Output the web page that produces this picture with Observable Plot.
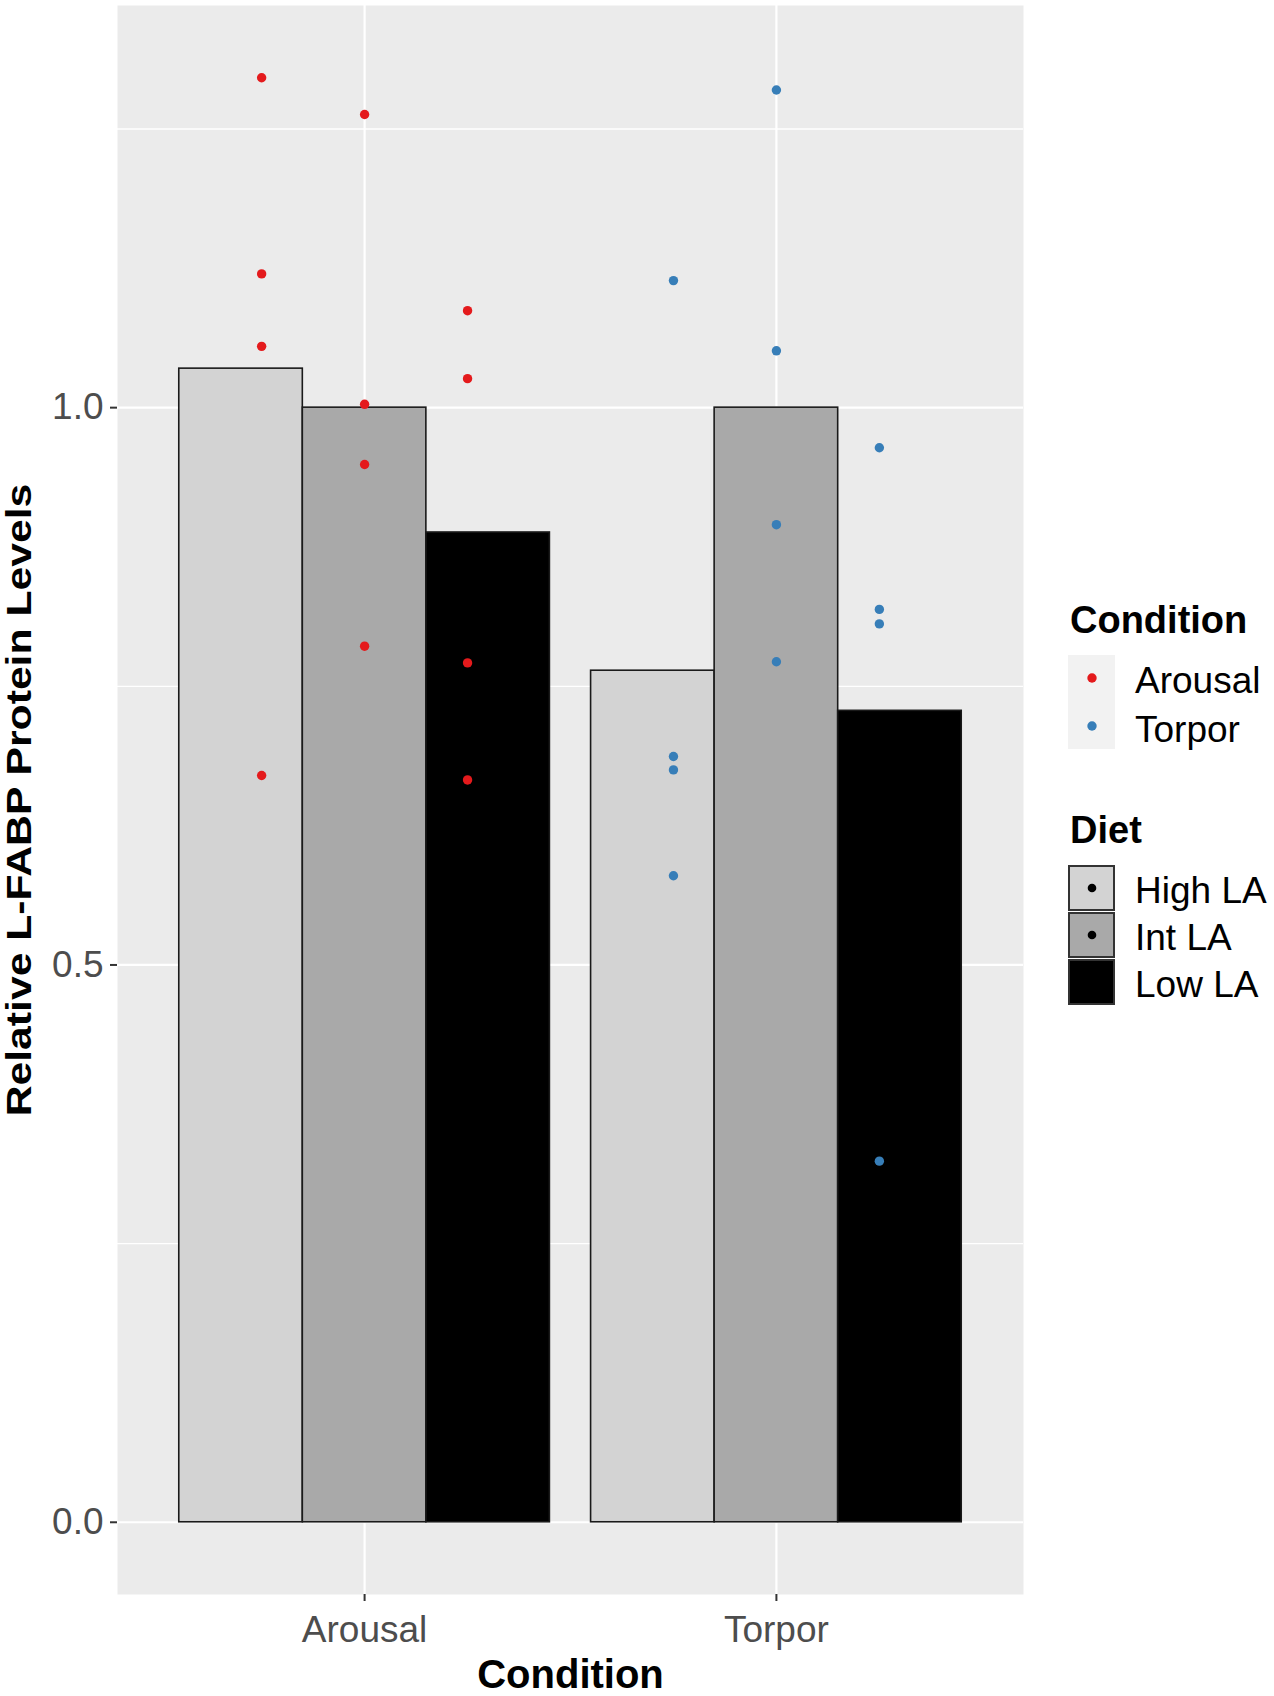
<!DOCTYPE html>
<html>
<head>
<meta charset="utf-8">
<script src="https://cdn.jsdelivr.net/npm/d3@7"></script>
<script src="https://cdn.jsdelivr.net/npm/@observablehq/plot@0.6"></script>
<style>
  html, body { margin: 0; padding: 0; background: #fff; }
  #wrap { position: relative; width: 1274px; height: 1696px; font-family: "Liberation Sans", Arial, sans-serif; }
  #legend { position: absolute; left: 0; top: 0; pointer-events: none; }
</style>
</head>
<body>
<div id="wrap"></div>
<script>
// ---- data ----
const conditions = ["Arousal", "Torpor"];
const diets = ["High LA", "Int LA", "Low LA"];
const dietFills = ["#D3D3D3", "#A9A9A9", "#000000"];
const conditionColors = ["#E41A1C", "#377EB8"];

// mean bar heights per diet (High, Int, Low)
const arousalBars = [1.035, 1.000, 0.888];
const torporBars  = [0.764, 1.000, 0.728];

// individual points per diet (High, Int, Low)
const arousalPoints = [
  [1.296, 1.120, 1.055, 0.670],
  [1.263, 1.003, 0.949, 0.786],
  [1.087, 1.026, 0.771, 0.666]
];
const torporPoints = [
  [1.114, 0.687, 0.675, 0.580],
  [1.285, 1.051, 0.895, 0.772],
  [0.964, 0.819, 0.806, 0.324]
];

const yMajor = [0, 0.5, 1.0];
const yMinor = [0.25, 0.75, 1.25];
const xTitle = "Condition";
const yTitle = "Relative L-FABP Protein Levels";

// ---- build tables ----
const barDodge = 0.3;   // geom_bar dodge (width 0.9 / 3)
const pointDodge = 0.25; // geom_point dodge (width 0.75 / 3)
const bars = [];
[arousalBars, torporBars].forEach((vals, ci) =>
  vals.forEach((v, di) => bars.push({condition: conditions[ci], ci, diet: diets[di], di, value: v})));
const points = [];
[arousalPoints, torporPoints].forEach((groups, ci) =>
  groups.forEach((vals, di) => vals.forEach(v => points.push({condition: conditions[ci], ci, diet: diets[di], di, value: v}))));

const barCenter = d => d.ci + 1 + (d.di - 1) * barDodge;
const pointX = d => d.ci + 1 + (d.di - 1) * pointDodge;

// ggplot-like expansion of the y range
const yMax = d3.max(points, d => d.value);
const yDomain = [-0.05 * yMax, 1.05 * yMax];

const chart = Plot.plot({
  width: 1274,
  height: 1696,
  marginLeft: 117,
  marginRight: 251,
  marginTop: 5,
  marginBottom: 102,
  style: {fontFamily: "'Liberation Sans', Arial, sans-serif", background: "white"},
  color: {type: "identity"},
  x: {domain: [0.4, 2.6]},
  y: {domain: yDomain},
  marks: [
    Plot.frame({fill: "#EBEBEB", stroke: "none"}),
    Plot.gridY({ticks: yMinor, stroke: "white", strokeOpacity: 1, strokeWidth: 1.3}),
    Plot.gridY({ticks: yMajor, stroke: "white", strokeOpacity: 1, strokeWidth: 2.2}),
    Plot.gridX({ticks: [1, 2], stroke: "white", strokeOpacity: 1, strokeWidth: 2.2}),
    Plot.rectY(bars, {
      x1: d => barCenter(d) - barDodge / 2,
      x2: d => barCenter(d) + barDodge / 2,
      y1: 0,
      y2: "value",
      fill: d => dietFills[d.di],
      stroke: "#1a1a1a",
      strokeWidth: 1.6
    }),
    Plot.dot(points, {x: pointX, y: "value", r: 4.7, fill: d => conditionColors[d.ci], stroke: "none"}),
    Plot.axisY({ticks: yMajor, tickFormat: d3.format(".1f"), tickSize: 7, tickPadding: 7,
      fontSize: 37, fill: "#4D4D4D", stroke: "#333333", strokeWidth: 2, label: null}),
    Plot.axisX({ticks: [1, 2], tickFormat: i => conditions[i - 1], tickSize: 7, tickPadding: 14,
      fontSize: 37, fill: "#4D4D4D", stroke: "#333333", strokeWidth: 2, label: null}),
    Plot.text([xTitle], {text: d => d, frameAnchor: "bottom", dy: 81, lineAnchor: "middle", textAnchor: "middle",
      fontSize: 40, fontWeight: "bold", fill: "black"}),
    Plot.text([yTitle], {text: d => d, frameAnchor: "left", dx: -97.5, rotate: -90, lineAnchor: "middle", textAnchor: "middle",
      fontSize: 35, fontWeight: "bold", fill: "black"})
  ]
});

document.getElementById("wrap").appendChild(chart);

// stretch the y-axis title along its reading direction to match the reference
d3.select(chart).selectAll("text").filter(function() { return this.textContent === yTitle; })
  .attr("transform", function() { return (d3.select(this).attr("transform") || "") + " scale(1.22,1)"; });

// ---- legend (right side) ----
const lg = d3.select("#wrap").append("svg")
  .attr("id", "legend").attr("width", 1274).attr("height", 1696)
  .style("font-family", "'Liberation Sans', Arial, sans-serif");

lg.append("text").attr("x", 1070).attr("y", 633).attr("font-size", 38).attr("font-weight", "bold").text("Condition");
lg.append("rect").attr("x", 1068).attr("y", 655).attr("width", 47).attr("height", 94).attr("fill", "#F2F2F2");
conditions.forEach((c, i) => {
  lg.append("circle").attr("cx", 1092).attr("cy", 678 + i * 48).attr("r", 4.7).attr("fill", conditionColors[i]);
  lg.append("text").attr("x", 1135).attr("y", 693 + i * 49).attr("font-size", 37).attr("fill", "black").text(c);
});

lg.append("text").attr("x", 1070).attr("y", 843).attr("font-size", 38).attr("font-weight", "bold").text("Diet");
diets.forEach((d, i) => {
  const top = 865 + i * 47;
  lg.append("rect").attr("x", 1069).attr("y", top + 1).attr("width", 45).attr("height", 44)
    .attr("fill", dietFills[i]).attr("stroke", "#333333").attr("stroke-width", 2);
  lg.append("circle").attr("cx", 1092).attr("cy", top + 23).attr("r", 4.3).attr("fill", "black");
  lg.append("text").attr("x", 1135).attr("y", 903 + i * 47).attr("font-size", 37).attr("fill", "black").text(d);
});
</script>
</body>
</html>
